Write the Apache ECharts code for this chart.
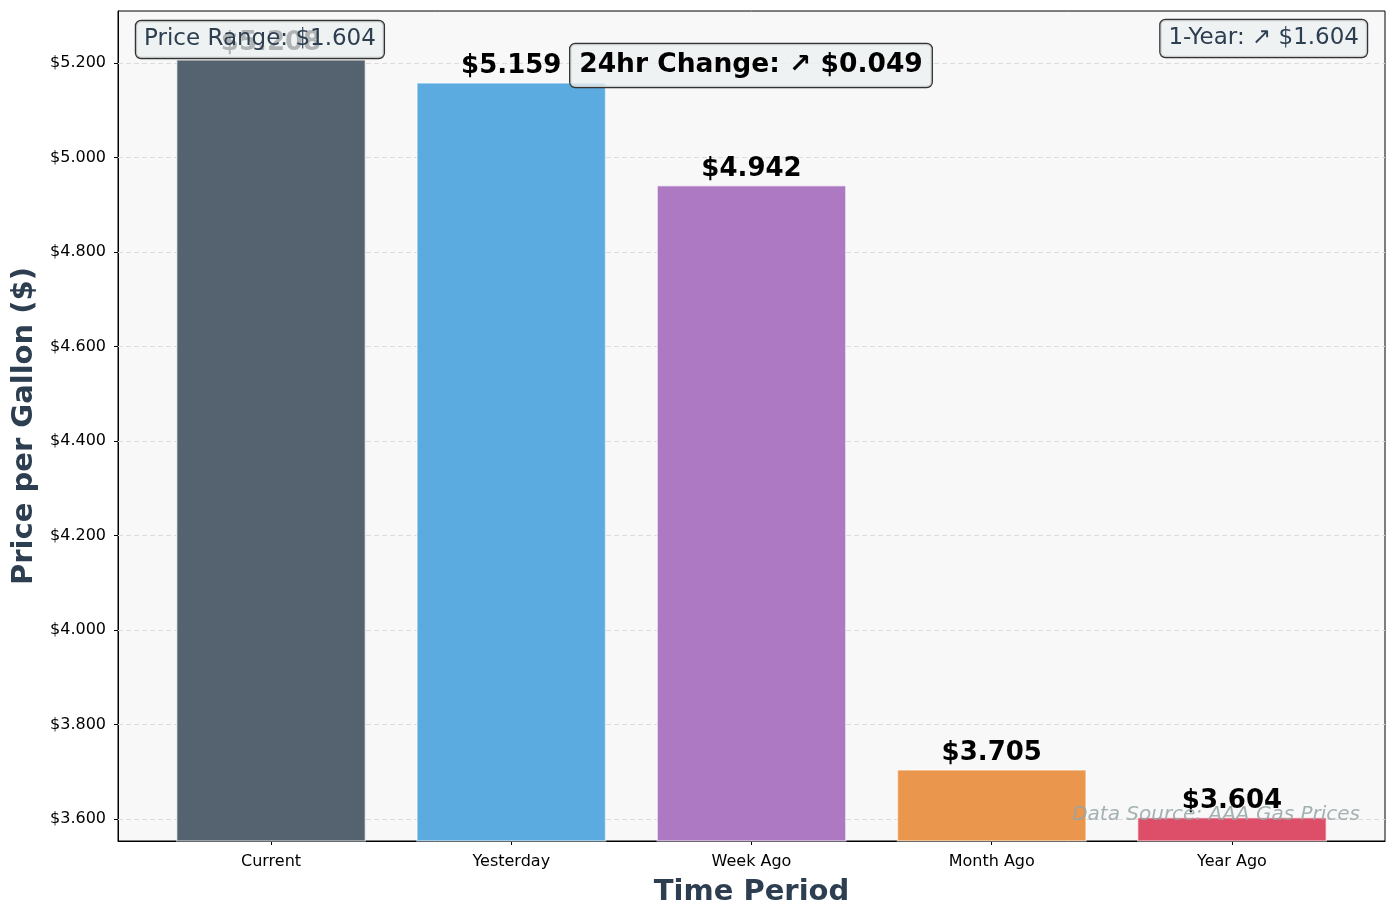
<!DOCTYPE html>
<html>
<head>
<meta charset="utf-8">
<script src="https://cdn.jsdelivr.net/npm/echarts@6/dist/echarts.min.js"></script>
<style>
  html, body { margin: 0; padding: 0; background: #fff; }
  #chart { width: 1397px; height: 918px; }
</style>
</head>
<body>
<div id="chart"></div>
<script>
// gas price data (AAA)
const periods = ['Current', 'Yesterday', 'Week Ago', 'Month Ago', 'Year Ago'];
const prices = [5.208, 5.159, 4.942, 3.705, 3.604];
const barColors = ['#556371', '#5babe1', '#ae79c3', '#ea964d', '#dd4f69'];
const yTicks = [3.6, 3.8, 4.0, 4.2, 4.4, 4.6, 4.8, 5.0, 5.2];

const change24 = prices[0] - prices[1];
const changeYear = prices[0] - prices[4];
const priceRange = Math.max(...prices) - Math.min(...prices);

const FONT = 'DejaVu Sans';
const myChart = echarts.init(document.getElementById('chart'));

const barData = prices.map((p, i) => ({
    value: [i, p],
    itemStyle: { color: barColors[i] }
}));

const option = {
    backgroundColor: '#ffffff',
    animation: false,
    textStyle: { fontFamily: FONT },
    grid: {
        left: 118, top: 11, width: 1267, height: 830,
        show: true, backgroundColor: '#f8f8f8',
        borderColor: '#000', borderWidth: 1
    },
    xAxis: {
        type: 'value',
        min: -0.637, max: 4.637,
        name: 'Time Period',
        nameLocation: 'middle',
        nameGap: 37,
        nameTextStyle: { fontFamily: FONT, fontSize: 29, fontWeight: 'bold', color: '#2c3e50' },
        axisLine: { show: true, onZero: false, lineStyle: { color: '#000' } },
        axisTick: { show: true, length: 4, customValues: [0, 1, 2, 3, 4], lineStyle: { color: '#000' } },
        axisLabel: {
            customValues: [0, 1, 2, 3, 4],
            margin: 13,
            fontFamily: FONT, fontSize: 16, color: '#000',
            formatter: v => periods[Math.round(v)] || ''
        },
        splitLine: { show: false }
    },
    yAxis: {
        type: 'value',
        min: 3.5534, max: 5.310,
        name: 'Price per Gallon ($)',
        nameLocation: 'middle',
        nameGap: 75,
        nameTextStyle: { fontFamily: FONT, fontSize: 29, fontWeight: 'bold', color: '#2c3e50' },
        axisLine: { show: true, onZero: false, lineStyle: { color: '#000' } },
        axisTick: { show: true, length: 4, customValues: yTicks, lineStyle: { color: '#000' } },
        axisLabel: {
            customValues: yTicks,
            margin: 12,
            fontFamily: FONT, fontSize: 16, color: '#000',
            formatter: v => '$' + v.toFixed(3)
        },
        splitLine: { show: false }
    },
    series: [{
        type: 'bar',
        data: barData,
        barWidth: 190,
        z: 2,
        itemStyle: { borderColor: 'rgba(255,255,255,0.55)', borderWidth: 1.5 },
        label: {
            show: true,
            position: 'top',
            distance: 3,
            fontFamily: FONT, fontSize: 26, fontWeight: 'bold', color: '#000',
            formatter: p => '$' + p.value[1].toFixed(3)
        },
        markLine: {
            z: 1,
            silent: true,
            symbol: 'none',
            label: { show: false },
            lineStyle: { color: '#dcdcdc', type: [5, 3], width: 1 },
            data: yTicks.map(t => ({ yAxis: t }))
        }
    }],
    graphic: [
        {
            type: 'text', x: 136, y: 21, z: 100,
            style: {
                text: 'Price Range: $' + priceRange.toFixed(3),
                font: '23px "DejaVu Sans"', fill: '#2c3e50',
                align: 'left', verticalAlign: 'top',
                lineHeight: 25, padding: [6, 8],
                backgroundColor: 'rgba(236,240,241,0.75)',
                borderColor: '#333', borderWidth: 1.2, borderRadius: 5
            }
        },
        {
            type: 'text', x: 1367, y: 20, z: 100,
            style: {
                text: '1-Year: \u2197 $' + changeYear.toFixed(3),
                font: '23px "DejaVu Sans"', fill: '#2c3e50',
                align: 'right', verticalAlign: 'top',
                lineHeight: 25, padding: [6, 8],
                backgroundColor: 'rgba(236,240,241,0.8)',
                borderColor: '#333', borderWidth: 1.2, borderRadius: 5
            }
        },
        {
            type: 'text', x: 751, y: 44, z: 100,
            style: {
                text: '24hr Change: \u2197 $' + change24.toFixed(3),
                font: 'bold 26.5px "DejaVu Sans"', fill: '#000',
                align: 'center', verticalAlign: 'top',
                lineHeight: 29, padding: [7, 9],
                backgroundColor: 'rgba(236,240,241,0.8)',
                borderColor: '#333', borderWidth: 1.2, borderRadius: 5
            }
        },
        {
            type: 'text', x: 1360, y: 815, z: 100,
            style: {
                text: 'Data Source: AAA Gas Prices',
                font: 'italic 20px "DejaVu Sans"', fill: 'rgba(149,165,166,0.85)',
                align: 'right', verticalAlign: 'middle'
            }
        }
    ]
};

myChart.setOption(option);
</script>
</body>
</html>
